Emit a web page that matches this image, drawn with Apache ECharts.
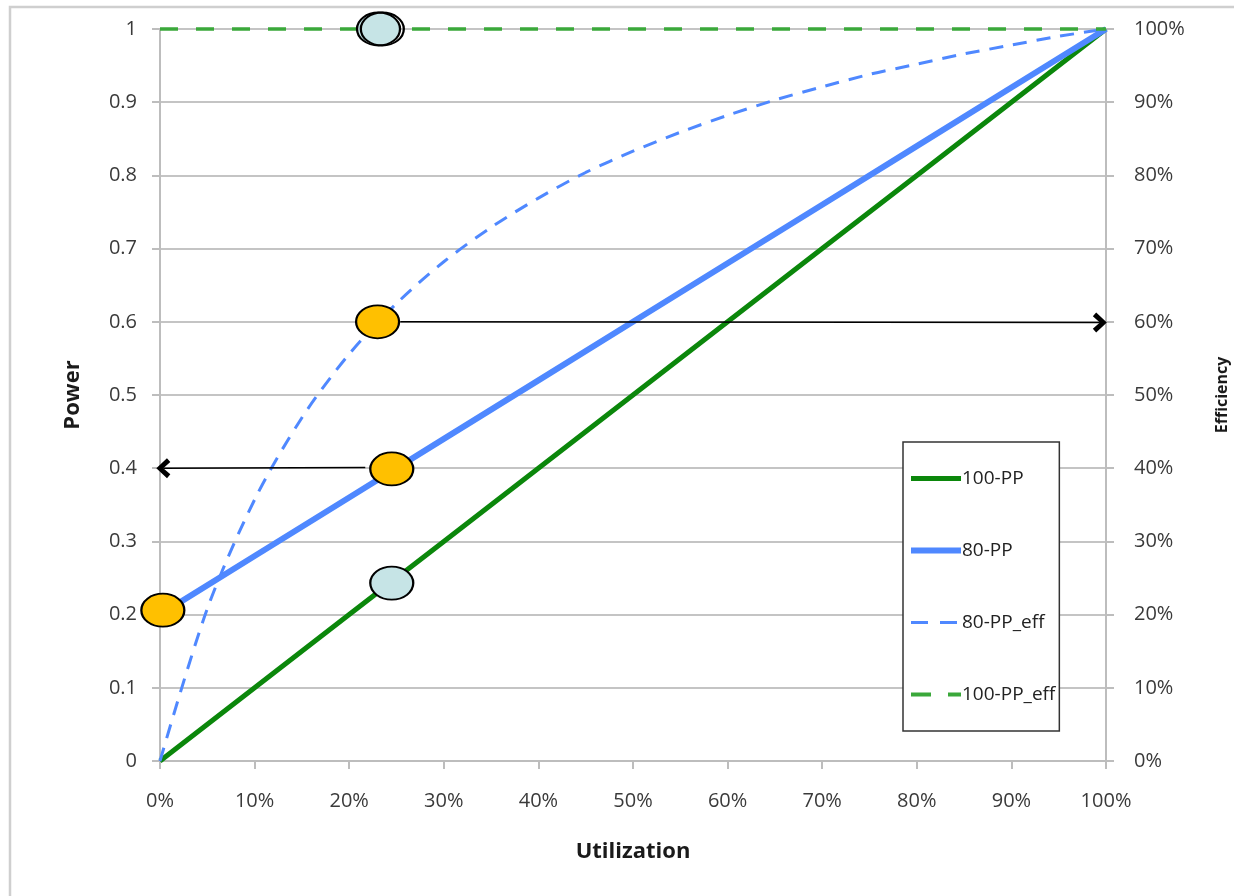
<!DOCTYPE html>
<html>
<head>
<meta charset="utf-8">
<title>Power and Efficiency vs Utilization</title>
<script src="https://cdn.jsdelivr.net/npm/echarts@6/dist/echarts.min.js"></script>
<style>
  html, body { margin: 0; padding: 0; background: #ffffff; }
  #chart { width: 1234px; height: 896px; }
</style>
</head>
<body>
<div id="chart"></div>
<script>
// Utilization samples (fraction of full load)
const utilCoarse = [0, 0.1, 0.2, 0.3, 0.4, 0.5, 0.6, 0.7, 0.8, 0.9, 1.0];
const utilFine = [0, 0.05, 0.10, 0.15, 0.20, 0.25, 0.30, 0.35, 0.40, 0.45, 0.50,
                  0.55, 0.60, 0.65, 0.70, 0.75, 0.80, 0.85, 0.90, 0.95, 1.0];

// Normalised power draw
const power100PP = [0, 0.1, 0.2, 0.3, 0.4, 0.5, 0.6, 0.7, 0.8, 0.9, 1.0];
const power80PP = [0.2, 0.28, 0.36, 0.44, 0.52, 0.6, 0.68, 0.76, 0.84, 0.92, 1.0];

// Efficiency (right axis)
const eff80PP = [0, 0.208, 0.357, 0.469, 0.556, 0.625, 0.682, 0.729, 0.769, 0.804, 0.833,
                 0.859, 0.882, 0.903, 0.921, 0.938, 0.952, 0.966, 0.978, 0.990, 1.0];
const eff100PP = [1, 1, 1, 1, 1, 1, 1, 1, 1, 1, 1];

// Callout ellipses: position (utilization, power) and fill kind
const calloutX = [0.231, 0.235, 0.230, 0.245, 0.003, 0.245];
const calloutY = [1.0, 1.0, 0.600, 0.399, 0.206, 0.243];
const calloutKind = ['teal', 'ring', 'amber', 'amber', 'amber', 'teal'];

// Arrows: [fromX, fromY, toX, toY]
const arrowUpper = [0.254, 0.600, 0.9935, 0.599];
const arrowLower = [0.217, 0.401, 0.0035, 0.400];

const GREEN = '#0b870b';
const GREEN_LIGHT = '#3aa83a';
const BLUE = '#4f88ff';
const FONT = 'Open Sans';

const pair = (xs, ys) => xs.map((x, i) => [x, ys[i]]);

const fills = { teal: '#c6e4e6', amber: '#ffc000', ring: 'rgba(0,0,0,0)' };
const calloutData = calloutX.map((x, i) => ({
  value: [x, calloutY[i]],
  itemStyle: { color: fills[calloutKind[i]] }
}));

// open arrow head (chevron), tip at the top of the path box
const chevron = 'path://M5,0 L10,6.4 L8.1,8.4 L5,4.2 L1.9,8.4 L0,6.4 Z';

const chart = echarts.init(document.getElementById('chart'), null, { renderer: 'canvas' });

chart.setOption({
  animation: false,
  backgroundColor: '#ffffff',
  textStyle: { fontFamily: FONT },
  graphic: [{
    type: 'rect',
    shape: { x: 10, y: 7, width: 1260, height: 920 },
    style: { fill: 'none', stroke: '#cfcfcf', lineWidth: 2.5 },
    silent: true,
    z: -10
  }],
  grid: {
    left: 160, right: 128, top: 29, bottom: 135,
    containLabel: false,
    outerBoundsMode: 'none'
  },
  legend: {
    orient: 'vertical',
    left: 903,
    top: 442,
    data: [
      { name: '100-PP', lineStyle: { width: 5 } },
      { name: '80-PP', lineStyle: { width: 6 } },
      { name: '80-PP_eff', lineStyle: { width: 3, type: [17, 12] } },
      { name: '100-PP_eff', lineStyle: { width: 4, type: [20, 17] } }
    ],
    itemWidth: 50,
    itemHeight: 14,
    itemGap: 53,
    padding: [27, 4, 27, 5],
    backgroundColor: '#ffffff',
    borderColor: '#333333',
    borderWidth: 1.5,
    itemStyle: { opacity: 0 },
    textStyle: { fontFamily: FONT, fontSize: 19, color: '#222222', padding: [0, 0, 0, -4] },
    selectedMode: false
  },
  xAxis: {
    type: 'value',
    min: 0, max: 1, interval: 0.1,
    name: 'Utilization',
    nameLocation: 'middle',
    nameGap: 80,
    nameTextStyle: { fontFamily: FONT, fontSize: 22, fontWeight: 'bold', color: '#1a1a1a' },
    axisLine: { show: true, lineStyle: { color: '#bdbdbd', width: 2 } },
    axisTick: { show: true, length: 8, lineStyle: { color: '#bdbdbd', width: 2 } },
    axisLabel: {
      margin: 30, fontSize: 20, color: '#3a3a3a', fontFamily: FONT,
      formatter: v => Math.round(v * 100) + '%'
    },
    splitLine: { show: false }
  },
  yAxis: [{
    type: 'value',
    min: 0, max: 1, interval: 0.1,
    name: 'Power',
    nameLocation: 'middle',
    nameGap: 76,
    nameTextStyle: { fontFamily: FONT, fontSize: 22, fontWeight: 'bold', color: '#1a1a1a' },
    axisLine: { show: true, lineStyle: { color: '#bdbdbd', width: 2 } },
    axisTick: { show: true, length: 8, lineStyle: { color: '#bdbdbd', width: 2 } },
    axisLabel: {
      margin: 23, fontSize: 20, color: '#3a3a3a', fontFamily: FONT,
      formatter: v => String(Math.round(v * 10) / 10)
    },
    splitLine: { show: true, lineStyle: { color: '#c4c4c4', width: 2 } }
  }, {
    type: 'value',
    min: 0, max: 1, interval: 0.1,
    position: 'right',
    name: 'Efficiency',
    nameLocation: 'middle',
    nameGap: 108,
    nameTextStyle: { fontFamily: FONT, fontSize: 16, fontWeight: 'bold', color: '#1a1a1a' },
    axisLine: { show: true, lineStyle: { color: '#bdbdbd', width: 2 } },
    axisTick: { show: true, length: 8, lineStyle: { color: '#bdbdbd', width: 2 } },
    axisLabel: {
      margin: 28, fontSize: 20, color: '#3a3a3a', fontFamily: FONT,
      formatter: v => Math.round(v * 100) + '%'
    },
    splitLine: { show: false }
  }],
  series: [{
    name: '100-PP',
    type: 'line',
    yAxisIndex: 0,
    data: pair(utilCoarse, power100PP),
    symbol: 'none',
    clip: false,
    color: GREEN,
    lineStyle: { color: GREEN, width: 5 },
    z: 3
  }, {
    name: '80-PP',
    type: 'line',
    yAxisIndex: 0,
    data: pair(utilCoarse, power80PP),
    symbol: 'none',
    clip: false,
    color: BLUE,
    lineStyle: { color: BLUE, width: 6 },
    z: 3
  }, {
    name: '80-PP_eff',
    type: 'line',
    yAxisIndex: 1,
    data: pair(utilFine, eff80PP),
    symbol: 'none',
    smooth: 0.3,
    clip: false,
    color: BLUE,
    lineStyle: { color: BLUE, width: 3, type: [14, 10] },
    z: 3
  }, {
    name: '100-PP_eff',
    type: 'line',
    yAxisIndex: 1,
    data: pair(utilCoarse, eff100PP),
    symbol: 'none',
    clip: false,
    color: GREEN_LIGHT,
    lineStyle: { color: GREEN_LIGHT, width: 3.5, type: [18, 18] },
    z: 3
  }, {
    name: 'callouts',
    type: 'scatter',
    yAxisIndex: 0,
    data: calloutData,
    symbol: 'circle',
    symbolSize: [43, 33],
    clip: false,
    silent: true,
    itemStyle: { borderColor: '#000000', borderWidth: 2, opacity: 1 },
    z: 5
  }, {
    name: 'arrows',
    type: 'line',
    yAxisIndex: 0,
    data: [],
    silent: true,
    z: 6,
    markLine: {
      silent: true,
      animation: false,
      symbol: ['none', chevron],
      symbolSize: [20, 14],
      label: { show: false },
      lineStyle: { color: '#000000', width: 1.5, type: 'solid' },
      data: [
        [{ coord: [arrowUpper[0], arrowUpper[1]] }, { coord: [arrowUpper[2], arrowUpper[3]] }],
        [{ coord: [arrowLower[0], arrowLower[1]] }, { coord: [arrowLower[2], arrowLower[3]] }]
      ]
    }
  }]
});
</script>
</body>
</html>
